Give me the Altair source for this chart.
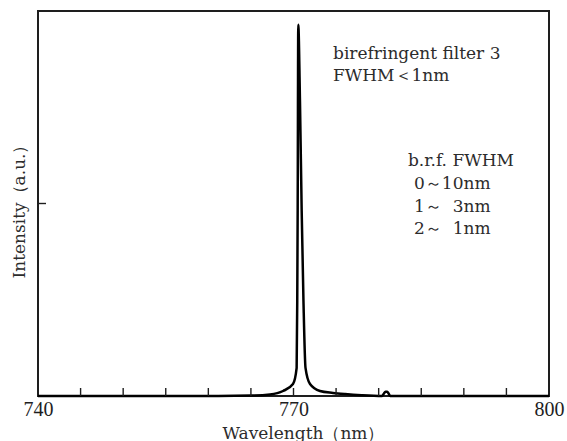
import altair as alt
import pandas as pd

# Spectrum trace (wavelength in nm, intensity in arbitrary units)
wavelength = [740, 760, 765, 767.24, 768.77, 769.94, 770.37, 770.44, 770.49, 770.56,
              770.76, 770.96, 771.17, 771.41, 771.94, 773.11, 774.64, 776.05, 778,
              780.4, 780.6, 780.8, 781.0, 781.2, 781.35, 790, 800]
intensity = [0, 0, 0.001, 0.004, 0.013, 0.031, 0.073, 0.247, 0.481, 0.964,
             0.766, 0.481, 0.247, 0.073, 0.031, 0.013, 0.008, 0.005, 0.002,
             0, 0.006, 0.011, 0.011, 0.005, 0, 0, 0]

x_label_values = [740, 770, 800]
x_minor_ticks = [745, 750, 755, 760, 765, 770, 775, 780, 785, 790, 795]
y_minor_ticks = [0.5]

filter_note = ["birefringent filter 3", "FWHM＜1nm"]
brf_header = "b.r.f. FWHM"
brf_lines = ["0～10nm", "1～\u20073nm", "2～\u20071nm"]

W, H = 511, 385
SERIF = "DejaVu Serif"
INK = "#1e1e1e"
TEXT_INK = "#2c2c2c"

spec = pd.DataFrame({"wl": wavelength, "I": intensity})

x_scale = alt.Scale(domain=[740, 800], nice=False, zero=False)
y_scale = alt.Scale(domain=[0, 1], nice=False)

line = alt.Chart(spec).mark_line(color="black", strokeWidth=2.5, strokeJoin="round",
                                 interpolate="monotone").encode(
    x=alt.X("wl:Q", scale=x_scale,
            axis=alt.Axis(values=x_label_values, ticks=False, domain=False, grid=False,
                          labelFont="Liberation Serif", labelFontSize=20, labelColor=INK,
                          labelPadding=3, labelFlush=False,
                          title="Wavelength（nm）", titleFont=SERIF, titleFontSize=17,
                          titleFontWeight="normal", titleColor=TEXT_INK,
                          titleBaseline="alphabetic", titleY=42, titleX=265)),
    y=alt.Y("I:Q", scale=y_scale,
            axis=alt.Axis(values=y_minor_ticks, ticks=False, labels=False, domain=False,
                          grid=False, title="Intensity（a.u.）", titleFont=SERIF,
                          titleFontSize=17, titleFontWeight="normal", titleColor=TEXT_INK,
                          titleAngle=-90, titleAlign="center", titleBaseline="middle",
                          titleX=-19, titleY=196)),
)

xticks = alt.Chart(pd.DataFrame({"t": x_minor_ticks})).mark_rule(
    color=INK, strokeWidth=1.4).encode(
    x=alt.X("t:Q", scale=x_scale), y=alt.value(H), y2=alt.value(H - 8))

yticks = alt.Chart(pd.DataFrame({"t": y_minor_ticks})).mark_rule(
    color=INK, strokeWidth=1.4).encode(
    y=alt.Y("t:Q", scale=y_scale), x=alt.value(0), x2=alt.value(8))

one = pd.DataFrame({"k": [0]})

note1 = alt.Chart(one).mark_text(
    align="left", baseline="alphabetic", font=SERIF, fontSize=17,
    lineHeight=22, color=TEXT_INK).encode(
    x=alt.datum(774.64), y=alt.datum(0.875), text=alt.value(filter_note))

note2 = alt.Chart(one).mark_text(
    align="left", baseline="alphabetic", font=SERIF, fontSize=17,
    color=TEXT_INK).encode(
    x=alt.datum(783.44), y=alt.datum(0.597), text=alt.value(brf_header))

note3 = alt.Chart(one).mark_text(
    align="left", baseline="alphabetic", font=SERIF, fontSize=17,
    lineHeight=22.7, color=TEXT_INK).encode(
    x=alt.datum(784.15), y=alt.datum(0.538), text=alt.value(brf_lines))

chart = alt.layer(line, xticks, yticks, note1, note2, note3).properties(
    width=W, height=H,
    autosize=alt.AutoSizeParams(type="none"),
    padding={"left": 38, "top": 11, "right": 18, "bottom": 45},
    background="white",
).configure_view(stroke=INK, strokeWidth=2)

chart.save("out.html", embed_options={"renderer": "svg", "actions": False})
